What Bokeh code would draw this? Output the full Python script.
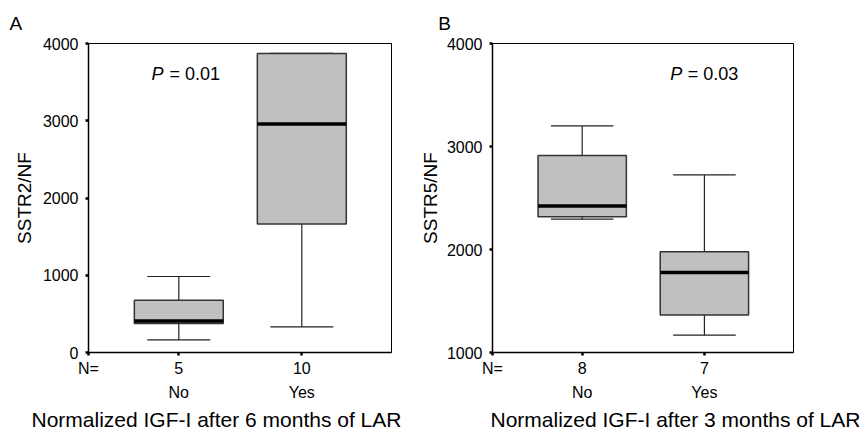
from bokeh.plotting import figure
from bokeh.models import LinearAxis, FixedTicker, Label, Range1d, Title
from bokeh.layouts import row
from bokeh.embed import file_html
from bokeh.resources import INLINE

# ---- data ----
groups = ["No", "Yes"]
xpos = [1, 2]

a_n = ["5", "10"]
a_low = [163, 331]
a_q1 = [375, 1665]
a_med = [409, 2959]
a_q3 = [677, 3871]
a_high = [984, 3871]

b_n = ["8", "7"]
b_low = [2294, 1168]
b_q1 = [2317, 1365]
b_med = [2423, 1777]
b_q3 = [2913, 1977]
b_high = [3200, 2724]

a_yticks = [0, 1000, 2000, 3000, 4000]
b_yticks = [1000, 2000, 3000, 4000]

FONT = "Liberation Sans"
X_START = 0.266
X_END = 2.729
BOX_W = 0.723
CAP_W = 0.512


def style_labels(ax, size="16px"):
    ax.major_label_text_font = FONT
    ax.major_label_text_font_size = size
    ax.major_label_text_color = "black"


def panel(width, bl, br, yr, yticks, ylabel, label_standoff, ns, low, q1, med, q3, high,
          letter, letter_offset, xtitle, xtitle_offset):
    p = figure(width=width, height=433, output_backend="svg", toolbar_location=None,
               x_range=Range1d(X_START, X_END), y_range=Range1d(*yr),
               x_axis_location=None, min_border_left=bl, min_border_right=br,
               min_border_top=43, min_border_bottom=81)
    p.title = Title(text=letter, align="left", offset=letter_offset, text_font=FONT,
                    text_font_size="19px", text_font_style="normal", text_color="black",
                    vertical_align="middle", text_baseline="alphabetic", standoff=18)
    p.grid.visible = False
    p.outline_line_color = "black"
    p.outline_line_width = 1
    p.background_fill_color = "white"
    p.border_fill_color = "white"

    ya = p.yaxis[0]
    ya.ticker = FixedTicker(ticks=yticks)
    ya.axis_line_width = 1.5
    ya.major_tick_line_width = 2.5
    ya.major_tick_out = 3
    ya.major_tick_in = 0
    ya.minor_tick_line_color = None
    ya.major_label_standoff = 7
    style_labels(ya)
    ya.axis_label = ylabel
    ya.axis_label_text_font = FONT
    ya.axis_label_text_font_size = "19px"
    ya.axis_label_text_font_style = "normal"
    ya.axis_label_text_color = "black"
    ya.axis_label_standoff = label_standoff

    # axis line, tick marks, "N=" and group sizes
    xn = LinearAxis(ticker=FixedTicker(ticks=[X_START] + xpos),
                    major_label_overrides={X_START: "N=", 1: ns[0], 2: ns[1]})
    xn.axis_line_width = 1.5
    xn.major_tick_line_width = 2.5
    xn.major_tick_out = 3
    xn.major_tick_in = 0
    xn.minor_tick_line_color = None
    xn.major_label_standoff = 4
    style_labels(xn)
    p.add_layout(xn, "below")

    # group row
    xg = LinearAxis(ticker=FixedTicker(ticks=xpos),
                    major_label_overrides={1: groups[0], 2: groups[1]})
    xg.axis_line_color = None
    xg.major_tick_line_color = None
    xg.minor_tick_line_color = None
    xg.major_label_standoff = -2
    style_labels(xg)
    p.add_layout(xg, "below")

    p.add_layout(Title(text=xtitle, align="left", offset=xtitle_offset, text_font=FONT,
                       text_font_size="21px", text_font_style="normal",
                       text_color="black", text_baseline="alphabetic", standoff=5),
                 "below")

    # whiskers
    p.segment(x0=xpos, y0=q3, x1=xpos, y1=high, line_color="#222222", line_width=1.2)
    p.segment(x0=xpos, y0=low, x1=xpos, y1=q1, line_color="#222222", line_width=1.2)
    cl = [x - CAP_W / 2 for x in xpos]
    cr = [x + CAP_W / 2 for x in xpos]
    p.segment(x0=cl, y0=high, x1=cr, y1=high, line_color="#222222", line_width=1.2)
    p.segment(x0=cl, y0=low, x1=cr, y1=low, line_color="#222222", line_width=1.2)
    # boxes
    p.vbar(x=xpos, width=BOX_W, bottom=q1, top=q3, fill_color="#c0c0c0",
           line_color="#333333", line_width=1.5)
    bl_ = [x - BOX_W / 2 for x in xpos]
    br_ = [x + BOX_W / 2 for x in xpos]
    p.segment(x0=bl_, y0=med, x1=br_, y1=med, line_color="black", line_width=3.5)
    return p


pa = panel(416, 88, 25, (0, 4000), a_yticks, "SSTR2/NF", 5,
           a_n, a_low, a_q1, a_med, a_q3, a_high,
           "A", -79, "Normalized IGF-I after 6 months of LAR", -57)
pb = panel(449, 73, 72, (1000, 4000), b_yticks, "SSTR5/NF", 3,
           b_n, b_low, b_q1, b_med, b_q3, b_high,
           "B", -54.3, "Normalized IGF-I after 3 months of LAR", -2)


def add_text(p, x, y, text, size, style="normal", align="left"):
    p.add_layout(Label(x=x, y=y, x_units="screen", y_units="screen", text=text,
                       text_font=FONT, text_font_size=size, text_font_style=style,
                       text_color="black", text_align=align, text_baseline="alphabetic"))


add_text(pa, 63, 278.7, "P", "18px", "italic")
add_text(pa, 81, 278.7, "= 0.01", "18px")
add_text(pb, 177.7, 278.7, "P", "18px", "italic")
add_text(pb, 195.3, 278.7, "= 0.03", "18px")

layout = row(pa, pb)
open("out.html", "w").write(file_html(layout, INLINE))
